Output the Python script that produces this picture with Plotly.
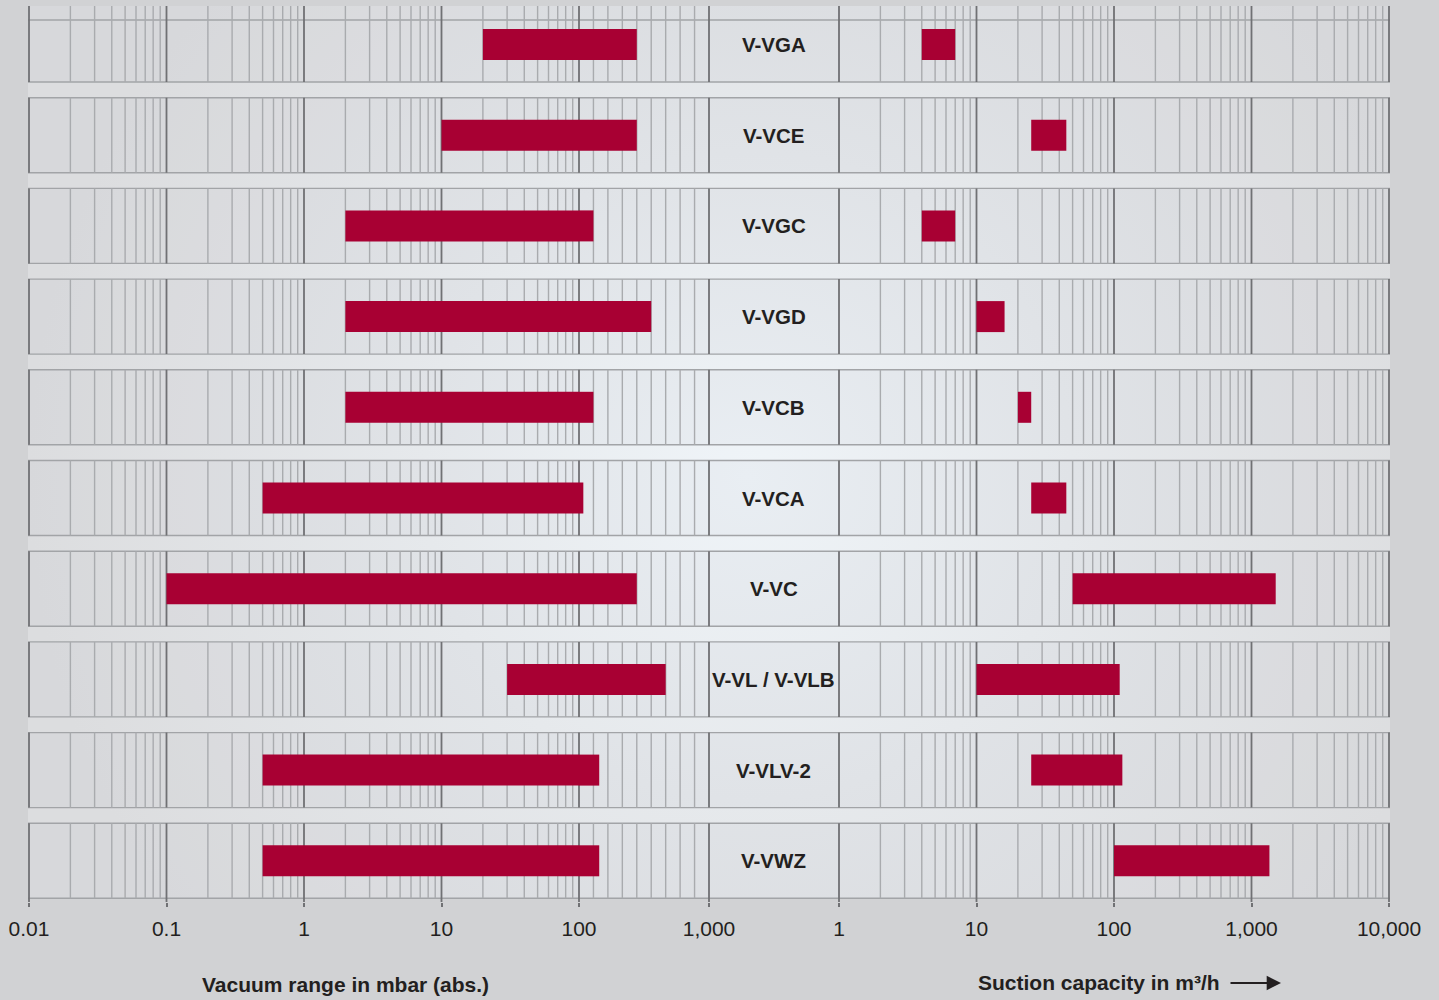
import base64
import plotly.graph_objects as go

# ---------------- data ----------------
models = ["V-VGA", "V-VCE", "V-VGC", "V-VGD", "V-VCB", "V-VCA", "V-VC",
          "V-VL / V-VLB", "V-VLV-2", "V-VWZ"]
vac_min = [20, 10, 2, 2, 2, 0.5, 0.1, 30, 0.5, 0.5]          # mbar (abs.)
vac_max = [500, 500, 200, 600, 200, 130, 500, 700, 240, 240]  # mbar (abs.)
cap_min = [4, 25, 4, 10, 20, 25, 50, 10, 25, 100]             # m3/h
cap_max = [7, 45, 7, 16, 25, 45, 1500, 110, 115, 1350]        # m3/h

vac_log_ticks = [0.01, 0.1, 1, 10, 100]
vac_log_labels = ["0.01", "0.1", "1", "10", "100"]
vac_lin_ticks = [1000]
vac_lin_labels = ["1,000"]
cap_ticks = [1, 10, 100, 1000, 10000]
cap_labels = ["1", "10", "100", "1,000", "10,000"]

# ---------------- geometry / style ----------------
W, H = 1439, 1000
DEC = 137.5      # px per decade
ROW = 90.7       # px per row
ROW0 = 44.5      # px centre of first row
PAD = 4

def fx(px):
    return px / W

def fy(py):
    return 1 - py / H

def ry(py):
    return (py - ROW0) / ROW

BOX = 37.5 / ROW
BAR = 31 / ROW

RED = "#a80033"
MINOR = "#a9abae"
MAJOR = "#707174"
HLINE = "#a2a4a7"
TXT = "#231f20"
FONT = "Liberation Sans, Arial, Helvetica, sans-serif"

rows = list(range(len(models)))
split = 100  # left axis: log up to 100, linear 100..1000 (as drawn)

# ---------------- traces ----------------
fig = go.Figure()
fig.add_trace(go.Bar(
    y=rows, base=vac_min, x=[min(h, split) - l for l, h in zip(vac_min, vac_max)],
    orientation="h", width=BAR, marker=dict(color=RED, line=dict(width=0)),
    xaxis="x", yaxis="y", hoverinfo="skip", showlegend=False))
fig.add_trace(go.Bar(
    y=rows, base=[max(l, split) for l in vac_min],
    x=[h - max(l, split) for l, h in zip(vac_min, vac_max)],
    orientation="h", width=BAR, marker=dict(color=RED, line=dict(width=0)),
    xaxis="x2", yaxis="y", hoverinfo="skip", showlegend=False))
fig.add_trace(go.Bar(
    y=rows, base=cap_min, x=[h - l for l, h in zip(cap_min, cap_max)],
    orientation="h", width=BAR, marker=dict(color=RED, line=dict(width=0)),
    xaxis="x3", yaxis="y", hoverinfo="skip", showlegend=False))

# ---------------- grid (row boxes) ----------------
tops_v = [ry(6)] + [i - BOX for i in rows[1:]]
bots_v = [i + BOX for i in rows]
bots_major = bots_v[:-1] + [ry(902)]
tops_h = [ry(20)] + [i - BOX for i in rows[1:]]

def vpath(vals, tops, bots):
    parts = []
    for v in vals:
        for t, b in zip(tops, bots):
            parts.append(f"M{v:g},{t:.5f}L{v:g},{b:.5f}")
    return "".join(parts)

minor_vac_log = [k * 10.0 ** d for d in range(-2, 2) for k in range(2, 10)]
major_vac_log = vac_log_ticks
minor_vac_lin = [k * 100 for k in range(2, 10)]
major_vac_lin = vac_lin_ticks
minor_cap = [k * 10.0 ** d for d in range(0, 4) for k in range(2, 10)]
major_cap = cap_ticks

shapes = []
for i in rows:
    shapes.append(dict(type="rect", xref="paper", yref="y", x0=fx(28), x1=fx(1390),
                       y0=tops_v[i], y1=bots_v[i], fillcolor="rgba(70,70,80,0.03)",
                       line=dict(width=0), layer="below"))
for ax, mn, mj in [("x", minor_vac_log, major_vac_log),
                   ("x2", minor_vac_lin, major_vac_lin),
                   ("x3", minor_cap, major_cap)]:
    shapes.append(dict(type="path", xref=ax, yref="y", path=vpath(mn, tops_v, bots_v),
                       line=dict(color=MINOR, width=1.4), layer="below"))
    shapes.append(dict(type="path", xref=ax, yref="y", path=vpath(mj, tops_v, bots_major),
                       line=dict(color=MAJOR, width=1.8), layer="below"))
for i in rows:
    for yv in (tops_h[i], bots_v[i]):
        shapes.append(dict(type="line", xref="paper", yref="y", x0=fx(28), x1=fx(1390),
                           y0=yv, y1=yv, line=dict(color=HLINE, width=1.4), layer="below"))

# ---------------- background gradient ----------------
svg = (
    "<svg xmlns='http://www.w3.org/2000/svg' width='1362' height='892' viewBox='0 0 1362 892'>"
    "<defs><radialGradient id='g' gradientUnits='userSpaceOnUse' cx='720' cy='470' r='720'>"
    "<stop offset='0' stop-color='#eff4f8'/>"
    "<stop offset='0.45' stop-color='#e6e9ec'/>"
    "<stop offset='1' stop-color='#dcdddf'/>"
    "</radialGradient></defs>"
    "<rect x='0' y='0' width='1362' height='892' fill='url(#g)'/></svg>"
)
src = "data:image/svg+xml;base64," + base64.b64encode(svg.encode()).decode()

# ---------------- annotations ----------------
annotations = []
for i, m in zip(rows, models):
    annotations.append(dict(text=f"<b>{m}</b>", x=fx(774), xref="paper", y=i, yref="y",
                            showarrow=False, xanchor="center", yanchor="middle",
                            font=dict(family=FONT, size=20.5, color=TXT)))
annotations.append(dict(text="<b>Vacuum range in mbar (abs.)</b>", x=fx(345), y=fy(984),
                        xref="paper", yref="paper", showarrow=False,
                        xanchor="center", yanchor="middle",
                        font=dict(family=FONT, size=21, color=TXT)))
annotations.append(dict(text="<b>Suction capacity in m³/h</b>", x=fx(1099), y=fy(982),
                        xref="paper", yref="paper", showarrow=False,
                        xanchor="center", yanchor="middle",
                        font=dict(family=FONT, size=21, color=TXT)))
annotations.append(dict(text="", x=fx(1281), y=fy(983), xref="paper", yref="paper",
                        showarrow=True, ax=-52, ay=0, arrowhead=2, arrowsize=1.3,
                        arrowwidth=2.2, arrowcolor=TXT))

tickfont = dict(family=FONT, size=21, color=TXT)
axcommon = dict(showgrid=False, zeroline=False, showline=False, ticks="outside",
                ticklen=4, tickwidth=1.6, tickcolor=MAJOR, tickfont=tickfont,
                ticklabelstandoff=4, anchor="y", fixedrange=True)

fig.update_layout(
    width=W, height=H,
    margin=dict(l=0, r=0, t=0, b=0, autoexpand=False),
    paper_bgcolor="#d1d2d4", plot_bgcolor="rgba(0,0,0,0)",
    barmode="overlay", showlegend=False,
    xaxis=dict(type="log", range=[-2 - PAD / DEC, 2 + PAD / DEC],
               domain=[fx(29 - PAD), fx(579 + PAD)],
               tickvals=vac_log_ticks, ticktext=vac_log_labels, **axcommon),
    xaxis2=dict(type="linear", range=[100 - PAD * 900 / 130, 1000 + PAD * 900 / 130],
                domain=[fx(579 - PAD), fx(709 + PAD)],
                tickvals=vac_lin_ticks, ticktext=vac_lin_labels, **axcommon),
    xaxis3=dict(type="log", range=[-PAD / DEC, 4 + PAD / DEC],
                domain=[fx(839 - PAD), fx(1389 + PAD)],
                tickvals=cap_ticks, ticktext=cap_labels, **axcommon),
    yaxis=dict(range=[ry(902), ry(2)], domain=[fy(902), fy(2)], visible=False,
               fixedrange=True),
    shapes=shapes,
    annotations=annotations,
    images=[dict(source=src, xref="paper", yref="paper", x=fx(28), y=fy(6),
                 sizex=fx(1390) - fx(28), sizey=892 / H, xanchor="left", yanchor="top",
                 sizing="stretch", layer="below")],
)

fig.write_html(
    "out.html",
    config={"displayModeBar": False},
    post_script="document.body.style.margin='0';document.body.style.background='#d1d2d4';",
)
